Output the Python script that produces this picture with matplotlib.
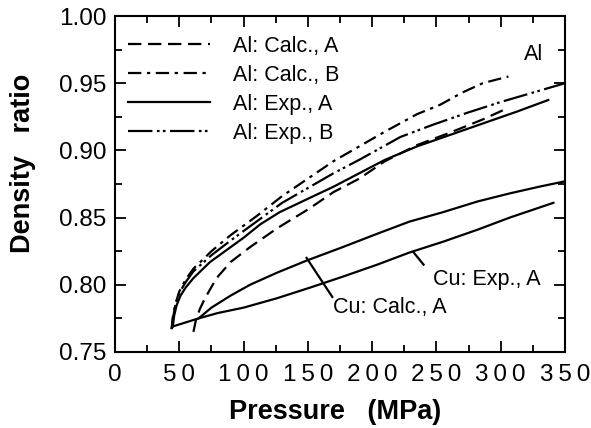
import matplotlib
matplotlib.use("Agg")
import matplotlib.pyplot as plt
from matplotlib.ticker import MultipleLocator, FixedLocator, FixedFormatter

plt.rcParams["font.family"] = ["Liberation Sans", "DejaVu Sans"]

# Al curves
al_calc_a_p = [61, 63, 66, 70, 79, 90, 105, 126, 150, 170, 190, 210, 235, 260, 286, 302]
al_calc_a_d = [0.765, 0.774, 0.782, 0.790, 0.805, 0.817, 0.828, 0.842, 0.856, 0.869,
               0.879, 0.892, 0.904, 0.913, 0.923, 0.930]

al_calc_b_p = [44, 45, 47, 50, 55, 61, 75, 90, 110, 130, 150, 170, 190, 210, 235, 253, 270, 286, 306]
al_calc_b_d = [0.767, 0.776, 0.786, 0.795, 0.804, 0.812, 0.825, 0.837, 0.851, 0.866,
               0.879, 0.892, 0.903, 0.914, 0.927, 0.934, 0.943, 0.950, 0.955]

al_exp_a_p = [45, 46, 48, 51, 55, 61, 74, 87, 100, 113, 128, 150, 170, 190, 210, 235, 253, 286, 313, 337]
al_exp_a_d = [0.769, 0.777, 0.785, 0.792, 0.798, 0.805, 0.817, 0.826, 0.835, 0.845,
              0.854, 0.864, 0.873, 0.883, 0.893, 0.903, 0.909, 0.920, 0.929, 0.9375]

al_exp_b_p = [44, 45, 47, 50, 55, 61, 75, 90, 110, 130, 150, 170, 190, 222, 247, 274, 300, 325, 350]
al_exp_b_d = [0.767, 0.775, 0.785, 0.794, 0.802, 0.810, 0.822, 0.833, 0.847, 0.861,
              0.872, 0.883, 0.893, 0.910, 0.919, 0.928, 0.936, 0.943, 0.950]

# Cu curves
cu_calc_a_p = [65, 75, 90, 105, 126, 149, 177, 204, 229, 255, 282, 307, 330, 350]
cu_calc_a_d = [0.775, 0.783, 0.792, 0.800, 0.809, 0.818, 0.828, 0.838, 0.847, 0.854,
               0.862, 0.868, 0.873, 0.877]

cu_exp_a_p = [45, 55, 65, 80, 100, 126, 152, 177, 204, 229, 255, 282, 307, 341]
cu_exp_a_d = [0.769, 0.772, 0.775, 0.779, 0.783, 0.790, 0.798, 0.806, 0.815, 0.824,
              0.832, 0.841, 0.850, 0.861]

x_ticks = [0, 50, 100, 150, 200, 250, 300, 350]
y_ticks = [0.75, 0.80, 0.85, 0.90, 0.95, 1.00]

fig = plt.figure(figsize=(5.91, 4.28), dpi=100)
ax = fig.add_axes([0.1946, 0.1776, 0.7614, 0.785])

lw = 1.6
ax.plot(al_calc_a_p, al_calc_a_d, color="black", lw=lw, ls=(0, (6, 3)), label="Al: Calc., A")
ax.plot(al_calc_b_p, al_calc_b_d, color="black", lw=lw, ls=(0, (6, 2.5, 1.5, 2.5)), label="Al: Calc., B")
ax.plot(al_exp_a_p, al_exp_a_d, color="black", lw=lw, ls="-", label="Al: Exp., A")
ax.plot(al_exp_b_p, al_exp_b_d, color="black", lw=lw, ls=(0, (11, 2, 1.2, 1.5, 1.2, 2)), label="Al: Exp., B")
ax.plot(cu_calc_a_p, cu_calc_a_d, color="black", lw=lw, ls="-")
ax.plot(cu_exp_a_p, cu_exp_a_d, color="black", lw=lw, ls="-")

# leader lines and labels
ax.plot([149, 169], [0.820, 0.791], color="black", lw=1.6)
ax.plot([232, 240], [0.8244, 0.815], color="black", lw=1.6)
ax.text(169.5, 0.783, "Cu: Calc., A", fontsize=15.5, ha="left", va="center")
ax.text(247, 0.8036, "Cu: Exp., A", fontsize=15.5, ha="left", va="center")
ax.text(318, 0.9715, "Al", fontsize=15.5, ha="left", va="center")

leg = ax.legend(loc="upper left", frameon=False, fontsize=15.5, handlelength=3.8,
                handletextpad=1.1, labelspacing=0.37, borderaxespad=0.2,
                bbox_to_anchor=(0.0, 0.98))

ax.set_xlim(0, 350)
ax.set_ylim(0.75, 1.00)
ax.xaxis.set_major_locator(FixedLocator(x_ticks))
ax.xaxis.set_major_formatter(FixedFormatter(["\u2009".join(str(v)) for v in x_ticks]))
ax.xaxis.set_minor_locator(MultipleLocator(25))
ax.yaxis.set_major_locator(FixedLocator(y_ticks))
ax.yaxis.set_major_formatter(FixedFormatter([f"{v:.2f}" for v in y_ticks]))
ax.yaxis.set_minor_locator(MultipleLocator(0.025))

ax.tick_params(which="both", direction="in", top=True, right=True, width=1.3, labelsize=17.5)
ax.tick_params(which="major", length=8)
ax.tick_params(axis="x", which="major", pad=9)
ax.tick_params(axis="y", which="major", pad=6)
ax.tick_params(which="minor", length=5)
for s in ax.spines.values():
    s.set_linewidth(1.5)

ax.set_xlabel("Pressure   (MPa)", fontsize=19.5, fontweight="bold")
ax.set_ylabel("Density   ratio", fontsize=19.5, fontweight="bold")
ax.xaxis.set_label_coords(0.49, -0.14)
ax.yaxis.set_label_coords(-0.175, 0.56)

fig.savefig("out.png", dpi=100)
